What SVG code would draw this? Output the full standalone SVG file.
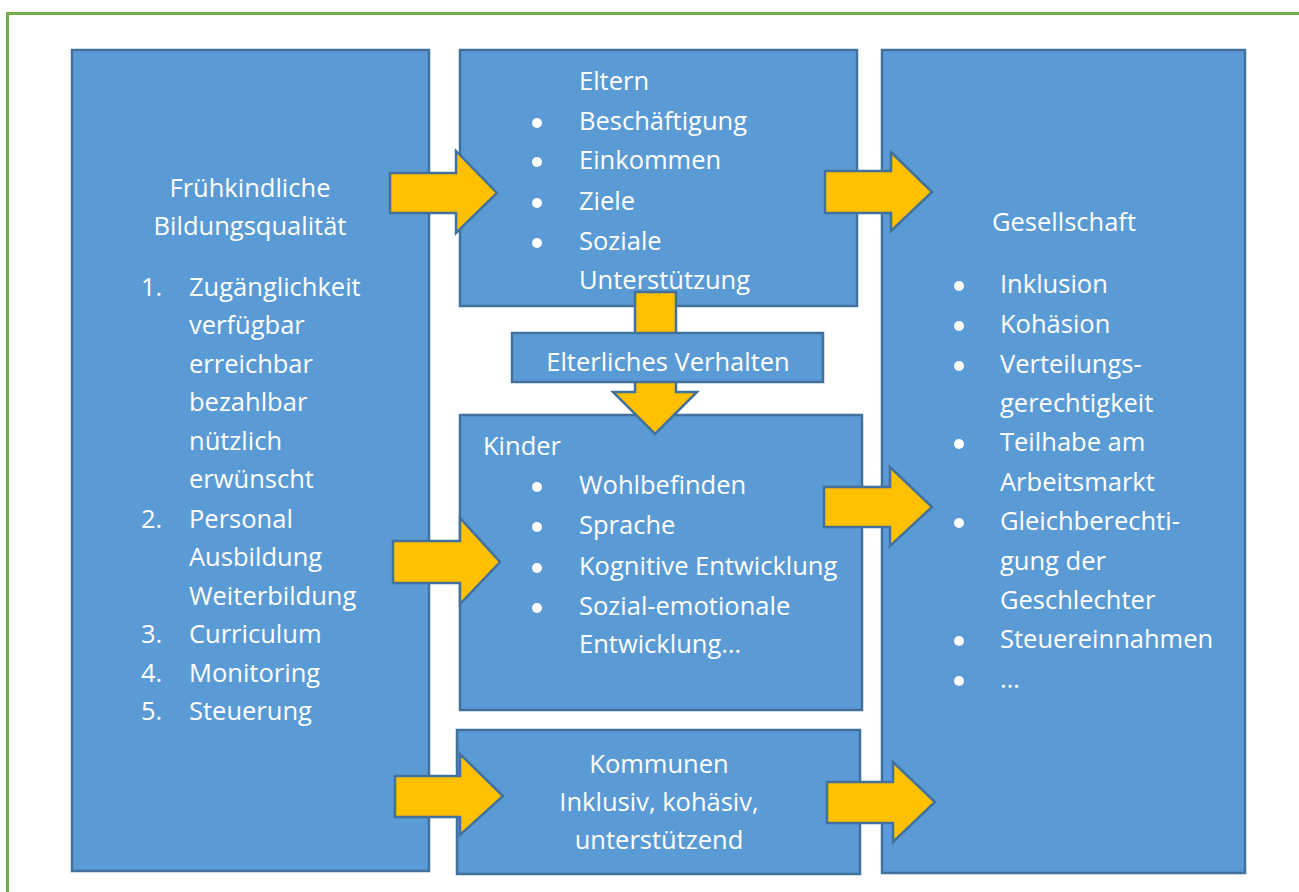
<svg xmlns="http://www.w3.org/2000/svg" width="1299" height="892" viewBox="0 0 1299 892">
<style>
.box{fill:#5B9BD5;stroke:#41719C;stroke-width:2.5}
.arr{fill:#FFC000;stroke:#41719C;stroke-width:2.5;stroke-linejoin:miter}
text{font-family:"Open Sans","Noto Sans","Liberation Sans",sans-serif;font-size:25.5px;fill:#FFFFFF}
.c{text-anchor:middle}
.dot{fill:#FFFFFF}
</style>
<rect width="1299" height="892" fill="#FFFFFF"/>
<path d="M7.5 892 V13.5 H1299" fill="none" stroke="#70AD47" stroke-width="3"/>

<g id="node-quality">
<rect class="box" x="72" y="50" width="357" height="821"/>
<text class="c" x="250" y="197">Frühkindliche</text>
<text class="c" x="250" y="235">Bildungsqualität</text>
<text x="141" y="296">1.</text><text x="189" y="296">Zugänglichkeit</text>
<text x="189" y="334">verfügbar</text>
<text x="189" y="373">erreichbar</text>
<text x="189" y="411">bezahlbar</text>
<text x="189" y="450">nützlich</text>
<text x="189" y="488">erwünscht</text>
<text x="141" y="528">2.</text><text x="189" y="528">Personal</text>
<text x="189" y="566">Ausbildung</text>
<text x="189" y="605">Weiterbildung</text>
<text x="141" y="643">3.</text><text x="189" y="643">Curriculum</text>
<text x="141" y="682">4.</text><text x="189" y="682">Monitoring</text>
<text x="141" y="720">5.</text><text x="189" y="720">Steuerung</text>
</g>

<g id="node-eltern">
<rect class="box" x="460" y="50" width="397" height="256"/>
<text x="579" y="90">Eltern</text>
<circle class="dot" cx="537" cy="123" r="5"/><text x="579" y="130">Beschäftigung</text>
<circle class="dot" cx="537" cy="162" r="5"/><text x="579" y="169">Einkommen</text>
<circle class="dot" cx="537" cy="203" r="5"/><text x="579" y="210">Ziele</text>
<circle class="dot" cx="537" cy="243" r="5"/><text x="579" y="250">Soziale</text>
<text x="579" y="289">Unterstützung</text>
</g>

<g id="node-gesellschaft">
<rect class="box" x="882" y="50" width="363" height="823"/>
<text class="c" x="1064" y="231">Gesellschaft</text>
<circle class="dot" cx="959" cy="286" r="5"/><text x="1000" y="293">Inklusion</text>
<circle class="dot" cx="959" cy="326" r="5"/><text x="1000" y="333">Kohäsion</text>
<circle class="dot" cx="959" cy="366" r="5"/><text x="1000" y="373">Verteilungs-</text>
<text x="1000" y="412">gerechtigkeit</text>
<circle class="dot" cx="959" cy="444" r="5"/><text x="1000" y="451">Teilhabe am</text>
<text x="1000" y="491">Arbeitsmarkt</text>
<circle class="dot" cx="959" cy="523" r="5"/><text x="1000" y="530">Gleichberechti-</text>
<text x="1000" y="570">gung der</text>
<text x="1000" y="609">Geschlechter</text>
<circle class="dot" cx="959" cy="641" r="5"/><text x="1000" y="648">Steuereinnahmen</text>
<circle class="dot" cx="959" cy="681" r="5"/><text x="1000" y="688">…</text>
</g>

<g id="node-kinder">
<rect class="box" x="460" y="415" width="402" height="295"/>
<text x="483" y="455">Kinder</text>
<circle class="dot" cx="537" cy="487" r="5"/><text x="579" y="494">Wohlbefinden</text>
<circle class="dot" cx="537" cy="527" r="5"/><text x="579" y="534">Sprache</text>
<circle class="dot" cx="537" cy="568" r="5"/><text x="579" y="575">Kognitive Entwicklung</text>
<circle class="dot" cx="537" cy="608" r="5"/><text x="579" y="615">Sozial-emotionale</text>
<text x="579" y="653">Entwicklung…</text>
</g>

<g id="node-kommunen">
<rect class="box" x="457" y="730" width="403" height="144"/>
<text class="c" x="659" y="773">Kommunen</text>
<text class="c" x="659" y="811">Inklusiv, kohäsiv,</text>
<text class="c" x="659" y="849">unterstützend</text>
</g>

<g id="connectors">
<polygon class="arr" points="390,173 456,173 456,151 497,193 456,233 456,213 390,213"/>
<polygon class="arr" points="825,171 891,171 891,152 932,192 891,231 891,213 825,213"/>
<polygon class="arr" points="393,541 460,541 460,518 500,562 460,604 460,583 393,583"/>
<polygon class="arr" points="824,487 890,487 890,467 932,507 890,546 890,527 824,527"/>
<polygon class="arr" points="395,776 460,776 460,754 503,796 460,835 460,817 395,817"/>
<polygon class="arr" points="827,782 893,782 893,762 935,802 893,842 893,823 827,823"/>
<polygon class="arr" points="635,292 676,292 676,392 697,392 655,434 613,392 635,392"/>
</g>

<g id="node-verhalten">
<rect class="box" x="512" y="333" width="311" height="49"/>
<text class="c" x="668" y="371">Elterliches Verhalten</text>
</g>
</svg>
